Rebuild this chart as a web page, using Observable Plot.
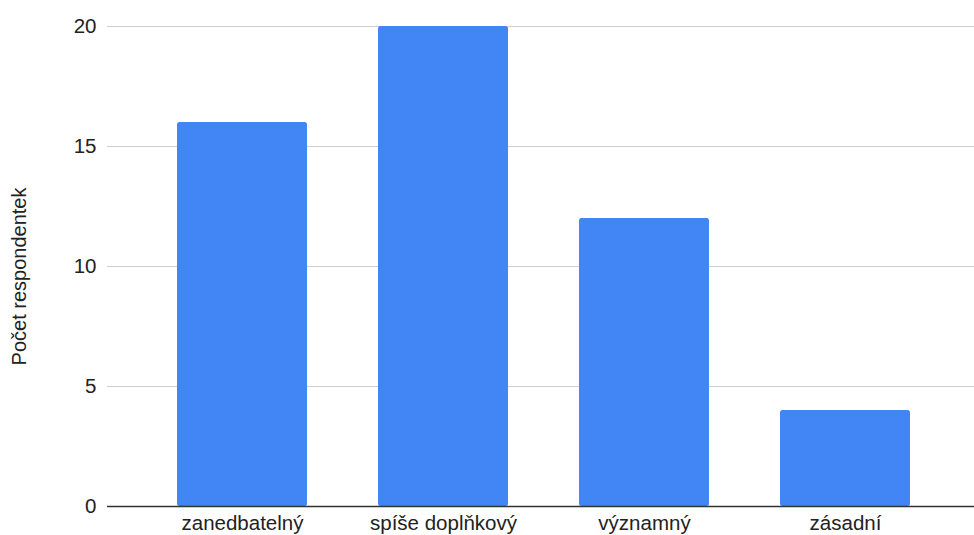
<!DOCTYPE html>
<html>
<head>
<meta charset="utf-8">
<script src="https://cdn.jsdelivr.net/npm/d3@7"></script>
<script src="https://cdn.jsdelivr.net/npm/@observablehq/plot@0.6"></script>
<style>
  html, body { margin: 0; padding: 0; background: #fff; }
  #chart svg { display: block; }
</style>
</head>
<body>
<div id="chart"></div>
<script>
const categories = ["zanedbatelný", "spíše doplňkový", "významný", "zásadní"];
const counts = [16, 20, 12, 4];
const yTicks = [0, 5, 10, 15, 20];
const yLabel = "Počet respondentek";

const data = categories.map((c, i) => ({category: c, count: counts[i]}));

const chart = Plot.plot({
  width: 974,
  height: 535,
  marginLeft: 107,
  marginRight: 0,
  marginTop: 26,
  marginBottom: 29,
  style: {fontFamily: "Arial, 'Liberation Sans', sans-serif", fontSize: "20.5px", color: "#222", background: "#fff"},
  x: {domain: categories, range: [141.5, 946.5], paddingInner: 0.353, paddingOuter: 0.1765, label: null},
  y: {domain: [0, 20], ticks: yTicks, label: null},
  marks: [
    Plot.ruleY(yTicks.filter(d => d > 0), {stroke: "#cfcfcf", strokeWidth: 1}),
    Plot.barY(data, {x: "category", y: "count", fill: "#4285F4", rx: 2.5}),
    Plot.ruleY([0], {stroke: "#333", strokeWidth: 1.3}),
    Plot.axisY({ticks: yTicks, tickSize: 0, tickPadding: 11, label: null, fontSize: 20.5}),
    Plot.axisX({tickSize: 0, tickPadding: 9, label: null, fontSize: 20.5}),
    Plot.text([yLabel], {frameAnchor: "left", textAnchor: "middle", dx: -88, dy: 10, rotate: -90, fontSize: 20, fill: "#222"})
  ]
});
document.getElementById("chart").append(chart);
</script>
</body>
</html>
